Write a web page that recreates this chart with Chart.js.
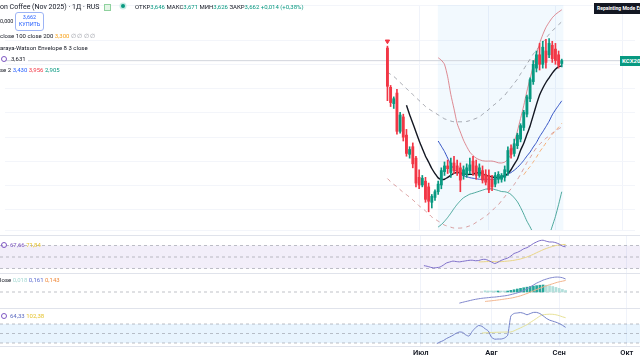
<!DOCTYPE html>
<html>
<head>
<meta charset="utf-8">
<script src="https://cdn.jsdelivr.net/npm/chart.js@4.4.1/dist/chart.umd.min.js"></script>
<style>
  html, body { margin: 0; padding: 0; background: #fff; }
  body { width: 640px; height: 360px; position: relative; overflow: hidden;
         font-family: Roboto, "Open Sans", sans-serif; color: #131722; }
  canvas { position: absolute; left: 0; }
  .lg { position: absolute; white-space: nowrap; font-size: 6px; line-height: 8px; }
  .sep { position: absolute; left: 0; width: 640px; height: 1px; background: #e0e3eb; }
  .ico { position: absolute; width: 4px; height: 4px; border: 1.3px solid #7e57c2; border-radius: 50%; }
  .btn { position: absolute; border: 1px solid #9db4f5; border-radius: 3px; background: #fff;
         color: #2962ff; text-align: center; font-size: 5.5px; line-height: 7px; padding-top: 1px; }
</style>
</head>
<body>

<canvas id="cMain" width="640" height="235" style="top:0"></canvas>
<canvas id="cRsi" width="640" height="37" style="top:236px"></canvas>
<canvas id="cMacd" width="640" height="34" style="top:274px"></canvas>
<canvas id="cOsc" width="640" height="51" style="top:309px"></canvas>

<div class="sep" style="top:235px"></div>
<div class="sep" style="top:273px"></div>
<div class="sep" style="top:308px"></div>
<div class="sep" style="top:346px"></div>

<!-- legends -->
<div class="lg" style="left:0;top:2px;font-size:7px;line-height:10px">on Coffee (Nov 2025) · 1Д · RUS</div>
<div style="position:absolute;left:104px;top:4px;width:5px;height:5px;border:1px solid #8fd19e;background:#e3f5e6"></div>
<div style="position:absolute;left:121px;top:4px;width:4px;height:4px;border-radius:50%;background:#089981;box-shadow:0 0 0 1.5px #c8ebe4"></div>
<div class="lg" style="left:135px;top:3px;color:#131722">ОТКР<span style="color:#089981">3,646</span> МАКС<span style="color:#089981">3,671</span> МИН<span style="color:#089981">3,626</span> ЗАКР<span style="color:#089981">3,662</span> <span style="color:#089981">+0,014 (+0,38%)</span></div>

<div class="lg" style="left:0;top:17px;font-size:5.5px">0,000</div>
<div class="btn" style="left:15px;top:12px;width:27px;height:16px">3,662<br>КУПИТЬ</div>

<div class="lg" style="left:0;top:32px">close 100 close 200 <span style="color:#f7a21b">3,300</span> <span style="color:#9598a1">∅ ∅ ∅ ∅</span></div>
<div class="lg" style="left:0;top:44px">araya-Watson Envelope 8 3 close</div>
<div class="ico" style="left:1px;top:56px"></div>
<div class="lg" style="left:11px;top:55px;background:#fff;padding-right:2px">3,631</div>
<div class="lg" style="left:0;top:66px">se 2 <span style="color:#2962ff">3,430</span> <span style="color:#f23645">3,956</span> <span style="color:#089981">2,905</span></div>

<div class="ico" style="left:1px;top:242px"></div>
<div class="lg" style="left:10px;top:241px;color:#7e57c2">67,66 <span style="color:#e5c32e">71,84</span></div>

<div class="lg" style="left:0;top:276px">lose <span style="color:#a6d9d3">0,018</span> <span style="color:#5b6bd0">0,161</span> <span style="color:#f08a3c">0,143</span></div>

<div class="ico" style="left:1px;top:313px"></div>
<div class="lg" style="left:10px;top:312px;color:#5c6bc0">64,33 <span style="color:#e5c32e">102,38</span></div>

<div style="position:absolute;left:594px;top:3px;height:11px;padding:0 3px;background:#131722;color:#fff;font-size:5px;line-height:11px;font-weight:bold;white-space:nowrap">Repainting Mode Enabled</div>
<div id="priceTag" style="position:absolute;left:620px;top:53px;height:10px;padding:0 2px;background:#089981;color:#fff;font-size:6px;line-height:10px;font-weight:bold;white-space:nowrap">KCX2025</div>

<script>
// ---------- data ----------
var monthTicks = [10, 32, 53, 74];
var monthLabels = ['Июл', 'Авг', 'Сен', 'Окт'];

// daily candles, Jun 16 .. Sep 4
var opens = [3.735, 3.508, 3.414, 3.475, 3.254, 3.337, 3.232, 3.121, 3.165, 3.099,
             2.988, 2.944, 2.966, 2.933, 2.844, 2.872, 2.905, 2.944, 3.021, 3.054,
             3.016, 3.071, 3.054, 3.043, 2.999, 3.005, 3.027, 3.082, 3.054, 2.999,
             3.027, 3.005, 2.999, 2.977, 2.949, 2.977, 2.977, 2.988, 3.021, 3.154,
             3.126, 3.171, 3.209, 3.276, 3.353, 3.442, 3.541, 3.619, 3.696, 3.641,
             3.718, 3.696, 3.751, 3.729, 3.696, 3.646];
var highs = [3.746, 3.519, 3.453, 3.497, 3.364, 3.353, 3.265, 3.165, 3.187, 3.110,
             3.032, 2.999, 2.988, 2.955, 2.889, 2.916, 2.966, 3.043, 3.077, 3.088,
             3.099, 3.110, 3.088, 3.071, 3.054, 3.066, 3.099, 3.110, 3.088, 3.066,
             3.054, 3.032, 3.032, 2.999, 3.016, 3.021, 3.010, 3.054, 3.165, 3.176,
             3.209, 3.243, 3.298, 3.375, 3.464, 3.563, 3.663, 3.718, 3.762, 3.774,
             3.785, 3.790, 3.774, 3.762, 3.718, 3.671];
var lows = [3.431, 3.397, 3.386, 3.237, 3.243, 3.198, 3.110, 3.099, 3.043, 2.933,
            2.922, 2.933, 2.844, 2.789, 2.811, 2.855, 2.889, 2.922, 2.999, 3.010,
            2.988, 3.010, 2.999, 2.905, 2.977, 2.988, 3.010, 2.999, 2.977, 2.988,
            2.955, 2.944, 2.900, 2.911, 2.933, 2.955, 2.960, 2.966, 2.999, 3.099,
            3.110, 3.154, 3.193, 3.259, 3.337, 3.425, 3.525, 3.597, 3.608, 3.619,
            3.619, 3.679, 3.652, 3.641, 3.619, 3.626];
var closes = [3.514, 3.420, 3.442, 3.254, 3.348, 3.220, 3.126, 3.149, 3.066, 2.955,
              2.944, 2.983, 2.861, 2.850, 2.878, 2.905, 2.949, 3.027, 3.054, 3.038,
              3.071, 3.027, 3.016, 2.972, 3.032, 3.043, 3.060, 3.016, 2.999, 3.043,
              2.972, 2.960, 2.916, 2.933, 2.999, 3.005, 2.999, 3.032, 3.143, 3.121,
              3.182, 3.232, 3.287, 3.364, 3.453, 3.552, 3.641, 3.696, 3.641, 3.740,
              3.652, 3.762, 3.674, 3.663, 3.635, 3.662];
var lastPrice = 3.662;
var signalBar = 0, signalPrice = 3.774;

// black smoothing line
var maStart = 6;
var maLine = [3.405, 3.350, 3.301, 3.250, 3.200, 3.155, 3.110, 3.076, 3.039, 3.010,
              2.985, 2.977, 2.977, 2.988, 3.000, 3.011, 3.016, 3.015, 3.008, 3.005,
              3.005, 3.007, 3.013, 3.016, 3.009, 3.001, 2.995, 2.990, 2.988, 2.988,
              2.992, 2.998, 3.010, 3.032, 3.063, 3.093, 3.145, 3.185, 3.235, 3.285,
              3.346, 3.408, 3.464, 3.503, 3.536, 3.563, 3.590, 3.612, 3.628, 3.631];

// bollinger bands
var bbStart = 16;
var bbBasis = [3.198, 3.168, 3.137, 3.099, 3.063, 3.036, 3.019, 3.008, 2.997, 2.992,
               2.986, 2.983, 2.980, 2.977, 2.977, 2.977, 2.977, 2.977, 2.977, 2.982,
               2.988, 2.994, 3.005, 3.016, 3.029, 3.045, 3.064, 3.086, 3.111, 3.134,
               3.163, 3.189, 3.223, 3.251, 3.281, 3.312, 3.349, 3.378, 3.404, 3.430];
var bbUpper = [3.679, 3.665, 3.641, 3.569, 3.466, 3.384, 3.299, 3.250, 3.203, 3.166,
               3.134, 3.114, 3.099, 3.090, 3.084, 3.082, 3.082, 3.082, 3.078, 3.072,
               3.071, 3.076, 3.093, 3.126, 3.189, 3.255, 3.328, 3.402, 3.486, 3.558,
               3.634, 3.698, 3.762, 3.812, 3.854, 3.884, 3.910, 3.929, 3.943, 3.956];
var bbLower = [2.701, 2.715, 2.734, 2.756, 2.781, 2.808, 2.832, 2.853, 2.870, 2.881,
               2.891, 2.896, 2.902, 2.908, 2.914, 2.920, 2.922, 2.922, 2.917, 2.912,
               2.906, 2.905, 2.900, 2.889, 2.870, 2.847, 2.814, 2.776, 2.735, 2.702,
               2.665, 2.636, 2.618, 2.612, 2.622, 2.652, 2.706, 2.762, 2.831, 2.905];

// nadaraya-watson envelope
var envStart = 0;
var envUpper = [3.596, 3.583, 3.571, 3.554, 3.536, 3.519, 3.501, 3.484, 3.466, 3.449,
                3.432, 3.415, 3.397, 3.384, 3.372, 3.361, 3.349, 3.338, 3.326, 3.320,
                3.313, 3.309, 3.309, 3.309, 3.309, 3.311, 3.316, 3.322, 3.329, 3.337,
                3.352, 3.366, 3.381, 3.398, 3.412, 3.428, 3.445, 3.462, 3.486, 3.508,
                3.532, 3.555, 3.586, 3.613, 3.643, 3.671, 3.700, 3.722, 3.746, 3.768,
                3.792, 3.814, 3.835, 3.851, 3.870, 3.887];
var envLower = [2.981, 2.963, 2.947, 2.934, 2.917, 2.901, 2.888, 2.873, 2.858, 2.841,
                2.823, 2.810, 2.794, 2.777, 2.759, 2.747, 2.735, 2.724, 2.712, 2.706,
                2.700, 2.695, 2.695, 2.695, 2.697, 2.702, 2.708, 2.716, 2.728, 2.739,
                2.752, 2.763, 2.779, 2.795, 2.814, 2.830, 2.853, 2.876, 2.900, 2.922,
                2.947, 2.975, 3.006, 3.039, 3.074, 3.101, 3.132, 3.158, 3.179, 3.196,
                3.214, 3.227, 3.243, 3.256, 3.268, 3.279];

// close 100 / close 200 average
var smaStart = 43;
var smaLine = [3.003, 3.028, 3.050, 3.077, 3.104, 3.135, 3.160, 3.187, 3.211, 3.236,
               3.258, 3.278, 3.300];

// pane 2
var rsiStart = 11;
var rsiLine = [35.0, 33.9, 32.2, 31.0, 31.5, 32.5, 35.8, 39.6, 41.3, 42.9,
               42.1, 41.5, 42.4, 43.3, 44.2, 44.4, 43.5, 43.9, 45.6, 46.0,
               44.1, 41.2, 38.6, 41.0, 44.1, 46.3, 48.1, 51.7, 56.1, 58.0,
               60.8, 64.3, 66.2, 69.6, 73.4, 76.2, 78.5, 79.2, 77.4, 76.1,
               76.1, 74.8, 72.5, 69.0, 67.66];
var rsiMaStart = 28;
var rsiMa = [41.4, 41.6, 41.9, 42.1, 42.1, 41.9, 41.8, 41.9, 42.4, 42.9,
             43.5, 44.3, 45.4, 46.6, 48.3, 50.0, 52.3, 54.7, 57.5, 60.0,
             62.6, 64.8, 66.7, 68.4, 70.0, 71.0, 71.6, 71.84];
var rsiLevels = [70, 50, 30];

// pane 3
var macdStart = 22;
var macdLine = [-0.138, -0.128, -0.118, -0.109, -0.099, -0.091, -0.084, -0.078, -0.074, -0.070,
                -0.065, -0.063, -0.058, -0.053, -0.048, -0.042, -0.032, -0.022, -0.011, 0.002,
                0.019, 0.038, 0.063, 0.086, 0.110, 0.128, 0.147, 0.160, 0.172, 0.180,
                0.185, 0.184, 0.177, 0.161];
var sigStart = 30;
var sigLine = [-0.117, -0.113, -0.109, -0.104, -0.099, -0.094, -0.088, -0.082, -0.076, -0.068,
               -0.058, -0.047, -0.033, -0.019, -0.002, 0.014, 0.031, 0.046, 0.062, 0.076,
               0.090, 0.102, 0.115, 0.126, 0.134, 0.143];
var histStart = 30;
var histVals = [0.015, 0.012, 0.010, 0.008, 0.009, 0.008, 0.006, 0.012, 0.020, 0.028,
                0.037, 0.045, 0.053, 0.060, 0.067, 0.073, 0.079, 0.084, 0.087, 0.084,
                0.077, 0.068, 0.057, 0.045, 0.032, 0.018];

// pane 4
var oscStart = 15;
var oscLine = [-106, -89, -75, -53, -37, -19, 2, 16, 12, -15,
               -27, 22, 60, 84, 76, 50, 26, -40, -60, -58,
               -58, -48, -19, 184, 211, 216, 220, 212, 197, 210,
               222, 222, 210, 187, 160, 141, 130, 119, 105, 87, 64.33];
var oscMaStart = 29;
var oscMa = [5, 7, 9, 11, 12, 13, 14, 15, 16, 16,
             28, 44, 59, 76, 93, 116, 137, 160, 183, 197,
             201, 203, 202, 197, 188, 176, 166];
var oscLevels = [100, 0, -100];

var shadeFrom = 15.9, shadeTo = 55.5;

// ---------- helpers ----------
var X_MIN = -120.65, X_MAX = 78.1;
var up = '#089981', down = '#f23645';

function pts(start, arr) {
    return arr.map(function (v, k) { return {x: start + k, y: v}; });
}
function line(start, arr, color, width, dash, order) {
    return {type: 'line', data: pts(start, arr), borderColor: color, borderWidth: width,
            borderDash: dash || [], pointRadius: 0, tension: 0.2, order: order || 2, fill: false};
}
function hline(v, color) {
    return {type: 'line', data: [{x: X_MIN, y: v}, {x: X_MAX, y: v}], borderColor: color,
            borderWidth: 1, borderDash: [3, 3], pointRadius: 0, order: 5};
}
function xAxis(labels) {
    return {
        type: 'linear', min: X_MIN, max: X_MAX, offset: false,
        afterBuildTicks: function (s) { s.ticks = monthTicks.map(function (v) { return {value: v}; }); },
        afterFit: function (s) { s.height = labels ? 14 : 0; },
        grid: {color: '#f0f3fa', drawTicks: false, offset: false},
        border: {display: false},
        ticks: {display: labels, autoSkip: false, maxRotation: 0, padding: 3, color: '#131722',
                font: {family: 'Roboto', size: 7.5, weight: '600'},
                callback: function (v, i) { return monthLabels[i]; }}
    };
}
function yAxis(min, max, step) {
    return {
        type: 'linear', min: min, max: max,
        afterFit: function (s) { s.width = 0; },
        ticks: {display: false, stepSize: step || 1000},
        grid: step ? {color: '#f3f5fa', drawTicks: false} : {display: false},
        border: {display: false}
    };
}

var bandPlugin = {
    id: 'band',
    beforeDatasetsDraw: function (chart, args, opts) {
        if (!opts || !opts.color) return;
        var ctx = chart.ctx, a = chart.chartArea, x = chart.scales.x, y = chart.scales.y;
        ctx.save();
        ctx.fillStyle = opts.color;
        if (opts.xFrom !== undefined) {
            var x0 = x.getPixelForValue(opts.xFrom), x1 = x.getPixelForValue(opts.xTo);
            ctx.fillRect(x0, a.top, x1 - x0, a.bottom - a.top);
        } else {
            var y0 = y.getPixelForValue(opts.yFrom), y1 = y.getPixelForValue(opts.yTo);
            ctx.fillRect(a.left, y0, a.right - a.left, y1 - y0);
        }
        ctx.restore();
    }
};
Chart.register(bandPlugin);

function baseOptions(xa, ya, band) {
    return {
        responsive: false, animation: false, events: [],
        layout: {padding: 0},
        plugins: {legend: {display: false}, tooltip: {enabled: false}, band: band || {}},
        scales: {x: xa, y: ya}
    };
}

// ---------- main pane ----------
var candleColors = closes.map(function (c, i) { return c >= opens[i] ? up : down; });
var wicks = opens.map(function (o, i) { return {x: i, y: [lows[i], highs[i]]}; });
var bodies = opens.map(function (o, i) { return {x: i, y: [o, closes[i]]}; });

var mainChart = new Chart(document.getElementById('cMain'), {
    type: 'bar',
    data: {datasets: [
        {type: 'line', data: [{x: signalBar, y: signalPrice}], showLine: false, pointStyle: 'triangle',
         rotation: 180, pointRadius: 2.5, backgroundColor: down, borderColor: down, order: 0},
        line(maStart, maLine, '#131722', 1.4, null, 0),
        {type: 'bar', data: bodies, backgroundColor: candleColors, barThickness: 2.2, minBarLength: 1,
         grouped: false, order: 1},
        {type: 'bar', data: wicks, backgroundColor: candleColors, barThickness: 1, grouped: false, order: 1},
        line(bbStart, bbBasis, '#3151c4', 1, null, 2),
        line(bbStart, bbUpper, 'rgba(214,100,110,0.75)', 1, null, 2),
        line(bbStart, bbLower, 'rgba(40,150,135,0.8)', 1, null, 2),
        line(envStart, envUpper, 'rgba(120,123,134,0.65)', 1, [4, 4], 3),
        line(envStart, envLower, 'rgba(205,125,125,0.75)', 1, [4, 4], 3),
        line(smaStart, smaLine, 'rgba(245,165,100,0.9)', 1, [4, 3], 3),
        {type: 'line', data: [{x: X_MIN, y: lastPrice}, {x: X_MAX, y: lastPrice}], borderColor: '#d1d4dc',
         borderWidth: 1, pointRadius: 0, order: 6}
    ]},
    options: baseOptions(xAxis(false), yAxis(2.68388, 3.98365, 0.14),
                         {color: 'rgba(33,150,243,0.06)', xFrom: shadeFrom, xTo: shadeTo})
});

// ---------- pane 2 ----------
new Chart(document.getElementById('cRsi'), {
    type: 'line',
    data: {datasets: [
        line(rsiStart, rsiLine, '#7e6fc9', 1, null, 1),
        line(rsiMaStart, rsiMa, 'rgba(232,210,120,0.9)', 1, null, 2)
    ].concat(rsiLevels.map(function (v) { return hline(v, 'rgba(149,152,161,0.6)'); }))},
    options: baseOptions(xAxis(false), yAxis(22.17, 86.52),
                         {color: 'rgba(126,87,194,0.1)', yFrom: rsiLevels[0], yTo: rsiLevels[2]})
});

// ---------- pane 3 ----------
var histColors = histVals.map(function (v, k) {
    return (k > 0 && v >= histVals[k - 1]) ? '#26a69a' : '#b2dfdb';
});
new Chart(document.getElementById('cMacd'), {
    type: 'bar',
    data: {datasets: [
        line(macdStart, macdLine, '#7f86cc', 1, null, 1),
        line(sigStart, sigLine, '#f2b48c', 1, null, 1),
        {type: 'bar', data: pts(histStart, histVals), backgroundColor: histColors, barThickness: 2,
         minBarLength: 1, order: 2},
        hline(0, 'rgba(149,152,161,0.6)')
    ]},
    options: baseOptions(xAxis(false), yAxis(-0.1983, 0.2230))
});

// ---------- pane 4 ----------
new Chart(document.getElementById('cOsc'), {
    type: 'line',
    data: {datasets: [
        line(oscStart, oscLine, '#7481c8', 1, null, 1),
        line(oscMaStart, oscMa, 'rgba(228,222,140,0.9)', 1, null, 2)
    ].concat(oscLevels.map(function (v) { return hline(v, 'rgba(149,152,161,0.6)'); }))},
    options: baseOptions(xAxis(true), yAxis(-131.6, 257.9),
                         {color: 'rgba(33,150,243,0.1)', yFrom: oscLevels[0], yTo: oscLevels[2]})
});

// price tag on the right edge
var tagY = mainChart.scales.y.getPixelForValue(lastPrice);
document.getElementById('priceTag').style.top = (tagY - 5) + 'px';
</script>
</body>
</html>
